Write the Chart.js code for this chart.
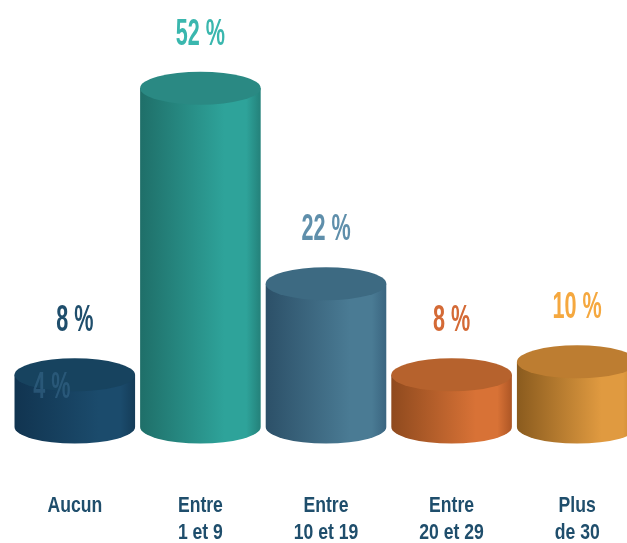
<!DOCTYPE html>
<html>
<head>
<meta charset="utf-8">
<script src="https://cdn.jsdelivr.net/npm/chart.js@4.4.0/dist/chart.umd.min.js"></script>
<style>
  html, body { margin: 0; padding: 0; background: #fff; overflow: hidden; }
</style>
</head>
<body>
<canvas id="myChart" width="640" height="543"></canvas>
<script>
// données
const categories = [['Aucun'], ['Entre', '1 et 9'], ['Entre', '10 et 19'], ['Entre', '20 et 29'], ['Plus', 'de 30']];
const valeurs = [8, 52, 22, 8, 10];
const etiquettes = ['8 %', '52 %', '22 %', '8 %', '10 %'];
const etiquettesFantomes = ['4 %', '', '', '', ''];

// couleurs : [gauche, clair, droite, dessus, texte]
const couleurs = [
  ['#113450', '#1b4b6c', '#143c58', '#17435f', '#1f4e6c'],
  ['#1f6f69', '#2ea39a', '#24817a', '#2a8983', '#3ab7ae'],
  ['#2c5068', '#4a7b94', '#3a6580', '#3d6a82', '#5f8fab'],
  ['#8f4a1e', '#d87236', '#ad5625', '#b6622d', '#d46a36'],
  ['#8a5b1e', '#e09a40', '#c4822f', '#bd7d31', '#f5a83f']
];

const FONT = "'Liberation Sans', Arial, sans-serif";

// texte étroit (police condensée simulée)
function texteEtroit(ctx, txt, x, y, taille, echelle, couleur) {
  ctx.save();
  ctx.translate(x, y);
  ctx.scale(echelle, 1);
  ctx.font = 'bold ' + taille + 'px ' + FONT;
  ctx.fillStyle = couleur;
  ctx.textAlign = 'center';
  ctx.textBaseline = 'alphabetic';
  ctx.fillText(txt, 0, 0);
  ctx.restore();
}

// dessine chaque barre comme un cylindre + les étiquettes
const cylindres = {
  id: 'cylindres',
  afterDatasetsDraw(chart) {
    const ctx = chart.ctx;
    const meta = chart.getDatasetMeta(0);
    const xScale = chart.scales.x;
    const bas = chart.chartArea.bottom;

    meta.data.forEach((bar, i) => {
      const c = couleurs[i];
      const w = bar.width;
      const x0 = bar.x - w / 2, x1 = bar.x + w / 2;
      const rx = w / 2, ry = 16.5;
      const top = bar.y, base = bar.base;

      ctx.save();
      // corps
      const g = ctx.createLinearGradient(x0, 0, x1, 0);
      g.addColorStop(0, c[0]);
      g.addColorStop(0.7, c[1]);
      g.addColorStop(0.88, c[1]);
      g.addColorStop(1, c[2]);
      ctx.fillStyle = g;
      ctx.beginPath();
      ctx.moveTo(x0, top);
      ctx.lineTo(x0, base);
      ctx.ellipse(bar.x, base, rx, ry, 0, Math.PI, 0, true);
      ctx.lineTo(x1, top);
      ctx.closePath();
      ctx.fill();

      // dessus
      ctx.fillStyle = c[3];
      ctx.beginPath();
      ctx.ellipse(bar.x, top, rx, ry, 0, 0, Math.PI * 2);
      ctx.fill();
      ctx.restore();

      // étiquette fantôme
      if (etiquettesFantomes[i]) {
        texteEtroit(ctx, etiquettesFantomes[i], bar.x - 23, top + 23, 36, 0.6, 'rgba(60, 110, 145, 0.5)');
      }

      // valeur
      texteEtroit(ctx, etiquettes[i], bar.x, top - ry - 27, 36, 0.6, c[4]);

      // catégorie
      const px = xScale.getPixelForValue(i);
      categories[i].forEach((ligne, k) => {
        texteEtroit(ctx, ligne, px, bas + 85 + k * 27, 22, 0.8, '#1f4e6c');
      });
    });
  }
};

new Chart(document.getElementById('myChart'), {
  type: 'bar',
  data: {
    labels: categories,
    datasets: [{
      data: valeurs,
      backgroundColor: 'rgba(0,0,0,0)',
      barPercentage: 0.96,
      categoryPercentage: 1
    }]
  },
  options: {
    responsive: false,
    animation: false,
    layout: { padding: { left: 12, right: 0, top: 36, bottom: 116 } },
    plugins: {
      legend: { display: false },
      tooltip: { enabled: false }
    },
    scales: {
      x: {
        grid: { display: false, drawTicks: false },
        border: { display: false },
        ticks: { display: false }
      },
      y: {
        display: false,
        min: 0,
        max: 60
      }
    }
  },
  plugins: [cylindres]
});
</script>
</body>
</html>
